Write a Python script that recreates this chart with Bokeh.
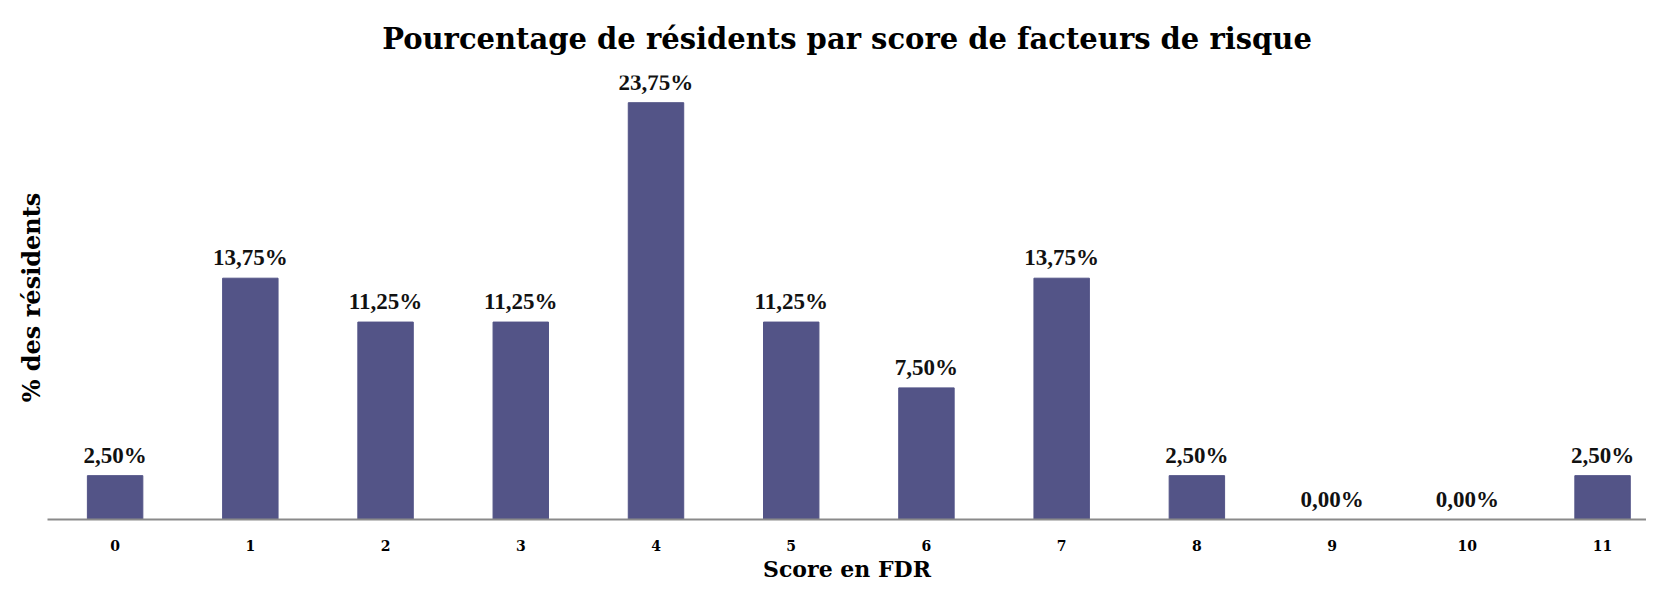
from bokeh.plotting import figure
from bokeh.models import ColumnDataSource, Range1d, FixedTicker, LabelSet, Title
from bokeh.embed import file_html
from bokeh.resources import INLINE

scores = [0, 1, 2, 3, 4, 5, 6, 7, 8, 9, 10, 11]
tick_labels = [str(s) for s in scores]
pct = [2.50, 13.75, 11.25, 11.25, 23.75, 11.25, 7.50, 13.75, 2.50, 0.00, 0.00, 2.50]
labels = [f"{v:.2f}".replace(".", ",") + "%" for v in pct]

FONT = "Liberation Serif"
HEAVY = "DejaVu Serif"

src = ColumnDataSource(dict(x=scores, y=pct, lab=labels))

p = figure(width=1646, height=581, output_backend="svg", toolbar_location=None,
           x_range=Range1d(-0.5, 11.325), y_range=Range1d(0, 25.3),
           min_border_left=47, min_border_right=0, min_border_bottom=58, min_border_top=73)
p.title.text = "Pourcentage de résidents par score de facteurs de risque"
p.title.align = "center"
p.title.text_font = HEAVY
p.title.text_font_size = "29px"
p.title.text_font_style = "bold"
p.title.text_color = "#000000"
p.title.standoff = 39

p.vbar(x="x", top="y", width=0.41, bottom=0, source=src, fill_color="#535487", line_color="#535487")

p.add_layout(LabelSet(x="x", y="y", text="lab", source=src, y_offset=8,
                      text_align="center", text_baseline="bottom",
                      text_font=FONT, text_font_style="bold", text_font_size="23px",
                      text_color="#111111"))

p.xaxis.ticker = FixedTicker(ticks=scores)
p.xaxis.major_label_overrides = {s: t for s, t in zip(scores, tick_labels)}
p.xaxis.major_tick_line_color = None
p.xaxis.minor_tick_line_color = None
p.xaxis.axis_line_color = "#8a8a8a"
p.xaxis.axis_line_width = 2
p.xaxis.major_label_text_font = HEAVY
p.xaxis.major_label_text_font_style = "bold"
p.xaxis.major_label_text_font_size = "14px"
p.xaxis.major_label_text_color = "#000000"
p.xaxis.major_label_standoff = 14

# x-axis title, centred on the full category span
p.add_layout(Title(text="Score en FDR", align="center", offset=16, standoff=0,
                   text_font=HEAVY, text_font_style="bold", text_font_size="22px",
                   text_color="#000000"), "below")

p.yaxis.ticker = FixedTicker(ticks=[])
p.yaxis.axis_line_color = None
p.yaxis.major_tick_line_color = None
p.yaxis.minor_tick_line_color = None
p.yaxis.axis_label = "% des résidents"
p.yaxis.axis_label_text_font = HEAVY
p.yaxis.axis_label_text_font_style = "bold"
p.yaxis.axis_label_text_font_size = "24px"
p.yaxis.axis_label_text_color = "#000000"
p.yaxis.axis_label_standoff = 2

p.xgrid.grid_line_color = None
p.ygrid.grid_line_color = None
p.outline_line_color = None

open("out.html", "w").write(file_html(p, INLINE))
